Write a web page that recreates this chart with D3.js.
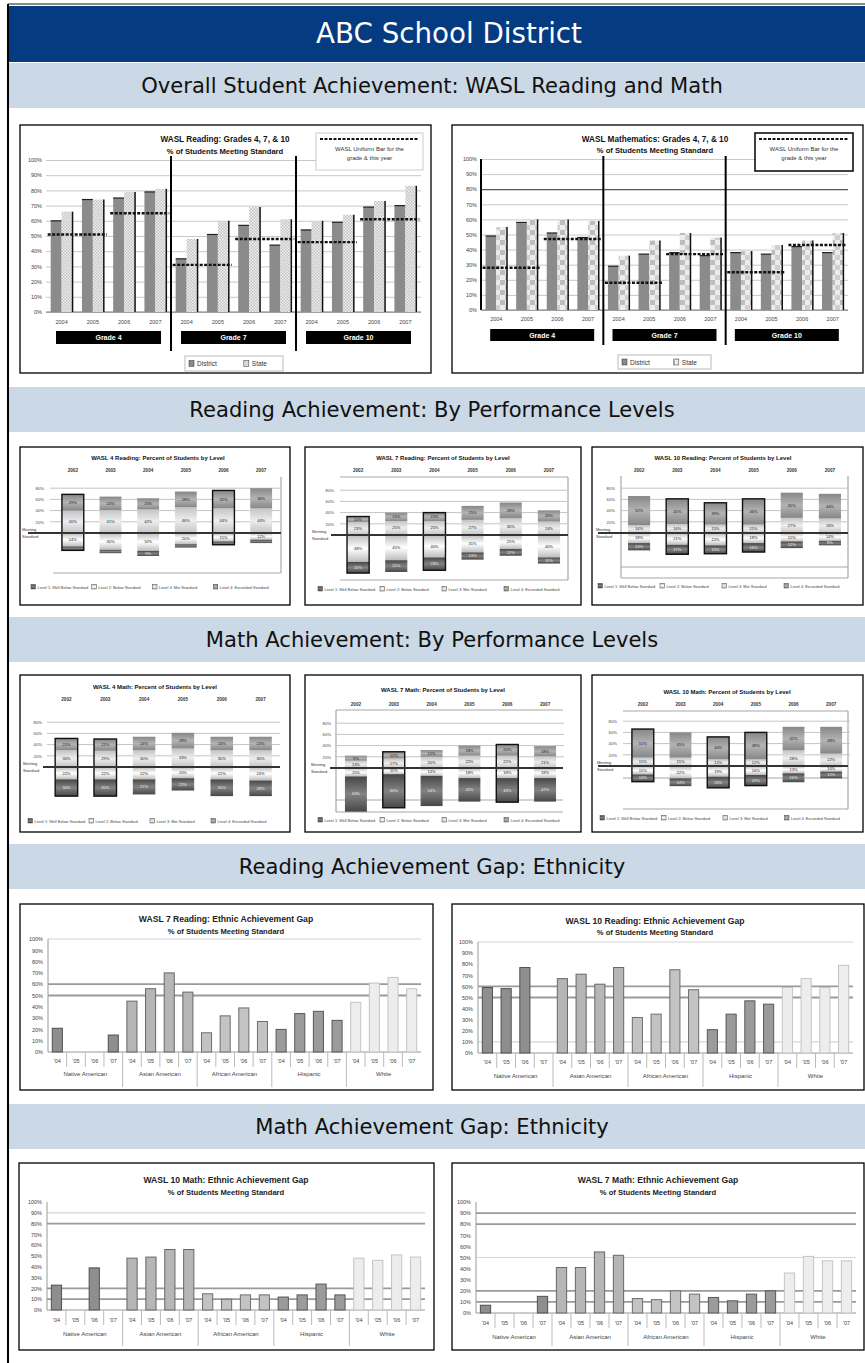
<!DOCTYPE html>
<html>
<head>
<meta charset="utf-8">
<script src="https://cdn.jsdelivr.net/npm/d3@7"></script>
<style>
  body { margin: 0; background: #fff; }
  svg { display: block; }
</style>
</head>
<body>
<svg id="page" width="865" height="1363"></svg>
<script>
/***************************************************************
 * DATA
 ***************************************************************/
const pageTitle = "ABC School District";
const sectionTitles = [
  "Overall Student Achievement: WASL Reading and Math",
  "Reading Achievement: By Performance Levels",
  "Math Achievement: By Performance Levels",
  "Reading Achievement Gap: Ethnicity",
  "Math Achievement Gap: Ethnicity"
];

// grade charts (4 years x 3 grades)
const gradeNames = ["Grade 4", "Grade 7", "Grade 10"];
const gradeYears = ["2004", "2005", "2006", "2007"];
const readDistrict = [60, 74, 75, 79, 35, 51, 57, 44, 54, 59, 69, 70];
const readState    = [66, 74, 79, 81, 48, 60, 69, 61, 60, 64, 73, 83];
const readUniform  = [51, 65, 31, 48, 46, 61];
const mathDistrict = [49, 58, 51, 48, 29, 37, 38, 36, 38, 37, 42, 38];
const mathState    = [55, 60, 60, 59, 36, 46, 51, 48, 39, 43, 46, 51];
const mathUniform  = [28, 47, 18, 37, 25, 43];

// performance levels: [Level 1, Level 2, Level 3, Level 4]
const perfYears = ["2002", "2003", "2004", "2005", "2006", "2007"];
const levelNames = ["Level 1: Well Below Standard", "Level 2: Below Standard",
                    "Level 3: Met Standard", "Level 4: Exceeded Standard"];
const levelTicks = [20, 40, 60, 80];
const read4Levels = [
  [7, 6, 9, 6, 6, 6],
  [24, 30, 32, 20, 15, 12],
  [40, 41, 42, 46, 44, 44],
  [29, 24, 20, 28, 32, 36]
];
const read7Levels = [
  [20, 21, 23, 13, 12, 11],
  [48, 45, 40, 31, 25, 40],
  [23, 25, 25, 27, 30, 24],
  [10, 15, 15, 25, 28, 20]
];
const read10Levels = [
  [13, 17, 15, 16, 12, 8],
  [18, 21, 22, 18, 15, 14],
  [14, 16, 15, 15, 27, 26],
  [52, 45, 39, 46, 45, 44]
];
const math4Levels = [
  [30, 30, 27, 22, 30, 28],
  [22, 22, 22, 20, 22, 24],
  [30, 29, 30, 33, 30, 30],
  [21, 21, 24, 28, 24, 24]
];
const math7Levels = [
  [63, 60, 54, 42, 43, 42],
  [15, 11, 14, 18, 18, 18],
  [13, 17, 20, 22, 22, 21],
  [9, 12, 12, 18, 20, 18]
];
const math10Levels = [
  [13, 14, 20, 19, 16, 12],
  [15, 22, 19, 16, 13, 10],
  [15, 15, 12, 12, 28, 22],
  [51, 45, 40, 48, 42, 48]
];

// ethnic gap (5 groups x 4 years), null = not reported
const gapGroups = ["Native American", "Asian American", "African American", "Hispanic", "White"];
const gapYears = ["'04", "'05", "'06", "'07"];
const readGap7  = [21, null, null, 15, 45, 56, 70, 53, 17, 32, 39, 27, 20, 34, 36, 28, 44, 61, 66, 56];
const readGap10 = [59, 58, 77, null, 67, 71, 62, 77, 32, 35, 75, 57, 21, 35, 47, 44, 59, 67, 59, 79];
const mathGap10 = [23, null, 39, null, 48, 49, 56, 56, 15, 10, 14, 14, 12, 14, 24, 14, 48, 46, 51, 49];
const mathGap7  = [7, null, null, 15, 41, 41, 55, 52, 13, 12, 20, 17, 14, 11, 17, 20, 36, 51, 47, 47];

/***************************************************************
 * SETUP
 ***************************************************************/
const svg = d3.select("#page");
const defs = svg.append("defs");
const FONT = "'Liberation Sans', Arial, sans-serif";
const HFONT = "'DejaVu Sans', Verdana, sans-serif";

// level gradients (edge, middle)
const levelShades = [["#474747", "#828282"], ["#bdbdbd", "#ffffff"], ["#c4c4c4", "#ededed"], ["#878787", "#b3b3b3"]];
levelShades.forEach((s, i) => {
  const lg = defs.append("linearGradient").attr("id", "lev" + i)
    .attr("x1", 0).attr("y1", 0).attr("x2", 0).attr("y2", 1);
  lg.append("stop").attr("offset", "0%").attr("stop-color", s[0]);
  lg.append("stop").attr("offset", "50%").attr("stop-color", s[1]);
  lg.append("stop").attr("offset", "100%").attr("stop-color", s[0]);
});

// fine dots for reading state bars
const dots = defs.append("pattern").attr("id", "dots").attr("width", 3).attr("height", 3)
  .attr("patternUnits", "userSpaceOnUse");
dots.append("rect").attr("width", 3).attr("height", 3).attr("fill", "#f0f0f0");
dots.append("rect").attr("width", 1.5).attr("height", 1.5).attr("fill", "#c2c2c2");
dots.append("rect").attr("x", 1.5).attr("y", 1.5).attr("width", 1.5).attr("height", 1.5).attr("fill", "#c2c2c2");

// coarse checks for math state bars
const checks = defs.append("pattern").attr("id", "checks").attr("width", 10).attr("height", 10)
  .attr("patternUnits", "userSpaceOnUse");
checks.append("rect").attr("width", 10).attr("height", 10).attr("fill", "#ececec");
checks.append("rect").attr("width", 5).attr("height", 5).attr("fill", "#bdbdbd");
checks.append("rect").attr("x", 5).attr("y", 5).attr("width", 5).attr("height", 5).attr("fill", "#cfcfcf");

function txt(g, x, y, s, size, opts = {}) {
  return g.append("text").attr("x", x).attr("y", y).text(s)
    .attr("font-family", opts.family || FONT).attr("font-size", size)
    .attr("font-weight", opts.weight || "normal")
    .attr("text-anchor", opts.anchor || "middle")
    .attr("fill", opts.fill || "#222");
}

function frameBox(g, b) {
  g.append("rect").attr("x", b[0]).attr("y", b[1]).attr("width", b[2]).attr("height", b[3])
    .attr("fill", "#fff").attr("stroke", "#000").attr("stroke-width", 1.3);
}

/***************************************************************
 * PAGE FRAME + HEADERS
 ***************************************************************/
svg.append("line").attr("x1", 8).attr("x2", 865).attr("y1", 4).attr("y2", 4).attr("stroke", "#8a8a8a").attr("stroke-width", 2);
svg.append("rect").attr("x", 9).attr("y", 6).attr("width", 856).attr("height", 56).attr("fill", "#053b80");
svg.append("line").attr("x1", 8).attr("x2", 8).attr("y1", 4).attr("y2", 1363).attr("stroke", "#000").attr("stroke-width", 2);

const titleText = txt(svg, 449, 43, pageTitle, 28, {family: HFONT, fill: "#fff"});
titleText.attr("font-size", 28 * 266 / titleText.node().getComputedTextLength());

const bandTops = [63, 387, 617, 844, 1104];
const probe = txt(svg, 0, -50, sectionTitles[0], 20, {family: HFONT});
const headSize = 20 * 582 / probe.node().getComputedTextLength();
probe.remove();
sectionTitles.forEach((t, i) => {
  svg.append("rect").attr("x", 9).attr("y", bandTops[i]).attr("width", 856).attr("height", 45).attr("fill", "#cbd8e6");
  txt(svg, 432, bandTops[i] + 30, t, headSize, {family: HFONT, fill: "#111"});
});

/***************************************************************
 * GRADE CHARTS (district vs state)
 ***************************************************************/
function drawGradeChart(c) {
  const g = svg.append("g");
  frameBox(g, c.box);

  const cats = d3.range(c.district.length);
  const x = d3.scaleBand().domain(cats).range([c.left, c.right]).paddingInner(0.3).paddingOuter(0.15);
  const y = d3.scaleLinear().domain([0, 100]).range([c.bottom, c.top]);
  const bw = x.bandwidth(), half = bw / 2;

  // grid
  g.append("g").attr("transform", `translate(${c.left},0)`)
    .call(d3.axisLeft(y).ticks(10).tickSize(-(c.right - c.left)).tickFormat(""))
    .call(a => a.select(".domain").remove())
    .call(a => a.selectAll("line").attr("stroke", d => c.darkLines.includes(d) ? "#555" : "#c8c8c8")
      .attr("stroke-width", d => c.darkLines.includes(d) ? 1.2 : 1));
  g.append("g").attr("transform", `translate(${c.left},0)`)
    .call(d3.axisLeft(y).ticks(10).tickSize(0).tickPadding(4).tickFormat(d => d + "%"))
    .call(a => a.select(".domain").remove())
    .call(a => a.selectAll("text").attr("font-family", FONT).attr("font-size", 5.5).attr("fill", "#444"));
  if (c.axisLine) {
    g.append("line").attr("x1", c.left).attr("x2", c.left).attr("y1", c.top).attr("y2", c.bottom)
      .attr("stroke", "#000").attr("stroke-width", 2);
  }
  g.append("line").attr("x1", c.left).attr("x2", c.right).attr("y1", y(0)).attr("y2", y(0)).attr("stroke", "#777");

  // bars
  g.append("g").selectAll("rect").data(c.district).join("rect")
    .attr("x", (d, i) => x(i)).attr("y", d => y(d))
    .attr("width", half).attr("height", d => y(0) - y(d)).attr("fill", "#8b8b8b");
  g.append("g").selectAll("line").data(c.district).join("line")
    .attr("x1", (d, i) => x(i)).attr("x2", (d, i) => x(i) + half)
    .attr("y1", d => y(d)).attr("y2", d => y(d)).attr("stroke", "#222").attr("stroke-width", 1.2);
  g.append("g").selectAll("rect").data(c.state).join("rect")
    .attr("x", (d, i) => x(i) + half).attr("y", d => y(d))
    .attr("width", half).attr("height", d => y(0) - y(d)).attr("fill", c.statePattern);
  g.append("g").selectAll("line").data(c.state).join("line")
    .attr("x1", (d, i) => x(i) + bw).attr("x2", (d, i) => x(i) + bw)
    .attr("y1", d => y(d)).attr("y2", y(0)).attr("stroke", "#111").attr("stroke-width", 1.5);

  // uniform bar segments (two years each)
  g.append("g").selectAll("line").data(c.uniform).join("line")
    .attr("x1", (d, j) => x(2 * j) - 3).attr("x2", (d, j) => x(2 * j + 1) + bw + 3)
    .attr("y1", d => y(d)).attr("y2", d => y(d))
    .attr("stroke", "#111").attr("stroke-width", 2.4).attr("stroke-dasharray", "3,1.5");

  // year labels
  g.append("g").attr("transform", `translate(0,${c.yearY})`)
    .call(d3.axisBottom(x).tickSize(0).tickPadding(0).tickFormat(i => gradeYears[i % 4]))
    .call(a => a.select(".domain").remove())
    .call(a => a.selectAll("text").attr("font-family", FONT).attr("font-size", 5.5).attr("fill", "#444"));

  // grade separators
  [4, 8].forEach(k => {
    const sx = (x(k - 1) + bw + x(k)) / 2;
    g.append("line").attr("x1", sx).attr("x2", sx).attr("y1", c.sepTop).attr("y2", c.sepBottom)
      .attr("stroke", "#000").attr("stroke-width", 2);
  });

  // grade boxes
  gradeNames.forEach((name, k) => {
    const cx = (x(4 * k) + x(4 * k + 3) + bw) / 2;
    g.append("rect").attr("x", cx - c.gradeW / 2).attr("y", c.gradeY)
      .attr("width", c.gradeW).attr("height", c.gradeH).attr("fill", "#000");
    txt(g, cx, c.gradeY + c.gradeH / 2 + 2.5, name, 7, {weight: "bold", fill: "#fff"});
  });

  // titles
  txt(g, c.titleX, c.titleY[0], c.title[0], 8.2, {weight: "bold", fill: "#111"});
  txt(g, c.titleX, c.titleY[1], c.title[1], 7.6, {weight: "bold", fill: "#111"});

  // note box (uniform bar)
  const n = c.note;
  g.append("rect").attr("x", n.x).attr("y", n.y).attr("width", n.w).attr("height", n.h)
    .attr("fill", "#fff").attr("stroke", n.stroke).attr("stroke-width", n.sw);
  g.append("line").attr("x1", n.x + 4).attr("x2", n.x + n.w - 4).attr("y1", n.y + 6).attr("y2", n.y + 6)
    .attr("stroke", "#111").attr("stroke-width", 2.2).attr("stroke-dasharray", "3,1.5");
  txt(g, n.x + n.w / 2, n.y + 18, "WASL Uniform Bar for the", 6, {fill: "#333"});
  txt(g, n.x + n.w / 2, n.y + 27, "grade & this year", 6, {fill: "#333"});

  // legend
  const L = c.legend;
  g.append("rect").attr("x", L.x).attr("y", L.y).attr("width", L.w).attr("height", L.h)
    .attr("fill", "#fff").attr("stroke", "#bbb");
  g.append("rect").attr("x", L.x + 4).attr("y", L.y + L.h / 2 - 3).attr("width", 5).attr("height", 6).attr("fill", "#8b8b8b").attr("stroke", "#333").attr("stroke-width", 0.5);
  txt(g, L.x + 12, L.y + L.h / 2 + 2.5, "District", 6.5, {anchor: "start", fill: "#333"});
  g.append("rect").attr("x", L.x + L.w * 0.6).attr("y", L.y + L.h / 2 - 3).attr("width", 5).attr("height", 6).attr("fill", c.statePattern).attr("stroke", "#333").attr("stroke-width", 0.5);
  txt(g, L.x + L.w * 0.6 + 8, L.y + L.h / 2 + 2.5, "State", 6.5, {anchor: "start", fill: "#333"});
}

drawGradeChart({
  box: [20, 125, 411, 248], left: 46, right: 421, top: 160, bottom: 312,
  district: readDistrict, state: readState, uniform: readUniform, statePattern: "url(#dots)",
  darkLines: [], axisLine: false,
  title: ["WASL Reading: Grades 4, 7, & 10", "% of Students Meeting Standard"], titleX: 225, titleY: [142, 154],
  yearY: 320, sepTop: 156, sepBottom: 351, gradeY: 331, gradeW: 105, gradeH: 13,
  note: {x: 316, y: 133, w: 107, h: 37, stroke: "#ccc", sw: 1},
  legend: {x: 185, y: 356, w: 98, h: 15}
});
drawGradeChart({
  box: [452, 125, 411, 248], left: 481, right: 848, top: 159, bottom: 310,
  district: mathDistrict, state: mathState, uniform: mathUniform, statePattern: "url(#checks)",
  darkLines: [80], axisLine: true,
  title: ["WASL Mathematics: Grades 4, 7, & 10", "% of Students Meeting Standard"], titleX: 655, titleY: [142, 153],
  yearY: 317, sepTop: 156, sepBottom: 345, gradeY: 329, gradeW: 104, gradeH: 12,
  note: {x: 755, y: 133, w: 98, h: 38, stroke: "#000", sw: 1.5},
  legend: {x: 618, y: 355, w: 93, h: 14}
});

/***************************************************************
 * PERFORMANCE LEVEL CHARTS
 ***************************************************************/
function drawLevelChart(c) {
  const g = svg.append("g");
  frameBox(g, c.box);
  const k = 0.56;
  const x = d3.scaleBand().domain(perfYears).range([c.left, c.right]).paddingInner(0.42).paddingOuter(0.21);
  const y = d3.scaleLinear().domain([-100, 100]).range([c.mid + 100 * k, c.mid - 100 * k]);
  const bw = x.bandwidth();

  (c.frame || []).forEach(f => g.append("line").attr("x1", f[0]).attr("y1", f[1]).attr("x2", f[2]).attr("y2", f[3])
    .attr("stroke", "#a8a8a8").attr("stroke-width", 1.2));

  g.append("g").selectAll("line").data(levelTicks).join("line")
    .attr("x1", c.gridL).attr("x2", c.right).attr("y1", d => y(d)).attr("y2", d => y(d))
    .attr("stroke", "#c4c4c4").attr("stroke-width", 1);
  g.append("g").attr("transform", `translate(${c.tickX},0)`)
    .call(d3.axisLeft(y).tickValues(levelTicks).tickSize(0).tickPadding(0).tickFormat(d => d + "%"))
    .call(a => a.select(".domain").remove())
    .call(a => a.selectAll("text").attr("font-family", FONT).attr("font-size", 4.2).attr("fill", "#444"));
  g.append("g").attr("transform", `translate(0,${c.yearY})`)
    .call(d3.axisTop(x).tickSize(0).tickPadding(0))
    .call(a => a.select(".domain").remove())
    .call(a => a.selectAll("text").attr("font-family", FONT).attr("font-size", 4.6).attr("font-weight", "bold").attr("fill", "#333"));

  const [l1, l2, l3, l4] = c.levels;
  const segs = [];
  perfYears.forEach((yr, i) => {
    segs.push({yr, lev: 2, y0: 0, y1: l3[i], v: l3[i]});
    segs.push({yr, lev: 3, y0: l3[i], y1: l3[i] + l4[i], v: l4[i]});
    segs.push({yr, lev: 1, y0: -l2[i], y1: 0, v: l2[i]});
    segs.push({yr, lev: 0, y0: -l2[i] - l1[i], y1: -l2[i], v: l1[i]});
  });
  g.append("g").selectAll("rect").data(segs).join("rect")
    .attr("x", d => x(d.yr)).attr("width", bw)
    .attr("y", d => y(d.y1)).attr("height", d => y(d.y0) - y(d.y1))
    .attr("fill", d => `url(#lev${d.lev})`);
  g.append("g").selectAll("text").data(segs.filter(d => d.v >= 8)).join("text")
    .attr("x", d => x(d.yr) + bw / 2).attr("y", d => (y(d.y0) + y(d.y1)) / 2 + 1.4)
    .attr("text-anchor", "middle").attr("font-family", FONT).attr("font-size", 4)
    .attr("fill", d => d.lev === 0 ? "#eee" : "#222").text(d => d.v + "%");

  g.append("g").selectAll("rect").data(c.outline).join("rect")
    .attr("x", i => x(perfYears[i])).attr("width", bw)
    .attr("y", i => y(l3[i] + l4[i])).attr("height", i => y(-l1[i] - l2[i]) - y(l3[i] + l4[i]))
    .attr("fill", "none").attr("stroke", "#111").attr("stroke-width", 1.4);

  g.append("line").attr("x1", c.lineX[0]).attr("x2", c.lineX[1]).attr("y1", c.mid).attr("y2", c.mid)
    .attr("stroke", "#333").attr("stroke-width", 2);
  txt(g, c.labelX, c.mid - 2, "Meeting", 4, {anchor: "start", fill: "#333"});
  txt(g, c.labelX, c.mid + 5, "Standard", 4, {anchor: "start", fill: "#333"});

  txt(g, c.titleX, c.titleY, c.title, 6, {weight: "bold", fill: "#111"});

  const step = (c.legendX[1] - c.legendX[0]) / 4;
  levelNames.forEach((name, i) => {
    const lx = c.legendX[0] + i * step;
    g.append("rect").attr("x", lx).attr("y", c.legendY - 3.5).attr("width", 4.5).attr("height", 4.5)
      .attr("fill", `url(#lev${i})`).attr("stroke", "#444").attr("stroke-width", 0.5);
    txt(g, lx + 6.5, c.legendY + 0.8, name, 3.9, {anchor: "start", fill: "#444"});
  });
}

drawLevelChart({
  box: [20, 447, 270, 158], title: "WASL 4 Reading: Percent of Students by Level", titleX: 158, titleY: 460,
  yearY: 472, left: 54, right: 280, mid: 533, gridL: 50, tickX: 44, levels: read4Levels,
  lineX: [28, 281], labelX: 22, frame: [[281, 477, 281, 573], [53, 573, 281, 573]],
  outline: [0, 4], legendY: 588, legendX: [31, 274]
});
drawLevelChart({
  box: [305, 447, 276, 158], title: "WASL 7 Reading: Percent of Students by Level", titleX: 443, titleY: 460,
  yearY: 472, left: 339, right: 568, mid: 535, gridL: 340, tickX: 334, levels: read7Levels,
  lineX: [331, 568], labelX: 312, frame: [[340, 477, 568, 477], [568, 477, 568, 580], [340, 580, 568, 580]],
  outline: [0, 2], legendY: 590, legendX: [318, 566]
});
drawLevelChart({
  box: [592, 447, 271, 158], title: "WASL 10 Reading: Percent of Students by Level", titleX: 723, titleY: 460,
  yearY: 472, left: 620, right: 849, mid: 533, gridL: 621, tickX: 615, levels: read10Levels,
  lineX: [598, 848], labelX: 596, frame: [[621, 476, 621, 578], [848, 476, 848, 578], [621, 578, 848, 578], [621, 567, 848, 567]],
  outline: [1, 2, 3], legendY: 587, legendX: [598, 846]
});
drawLevelChart({
  box: [20, 675, 270, 157], title: "WASL 4 Math: Percent of Students by Level", titleX: 155, titleY: 689,
  yearY: 701, left: 47, right: 280, mid: 767, gridL: 47, tickX: 42, levels: math4Levels,
  lineX: [43, 280], labelX: 23, frame: [],
  outline: [0, 1], legendY: 822, legendX: [28, 272]
});
drawLevelChart({
  box: [305, 675, 276, 157], title: "WASL 7 Math: Percent of Students by Level", titleX: 443, titleY: 692,
  yearY: 706, left: 337, right: 564, mid: 768, gridL: 336, tickX: 331, levels: math7Levels,
  lineX: [330, 563], labelX: 311, frame: [[336, 710, 563, 710], [336, 710, 336, 812], [336, 800, 563, 800], [336, 812, 563, 812]],
  outline: [1, 4], legendY: 821, legendX: [318, 566]
});
drawLevelChart({
  box: [592, 675, 271, 157], title: "WASL 10 Math: Percent of Students by Level", titleX: 727, titleY: 694,
  yearY: 706, left: 624, right: 850, mid: 766, gridL: 623, tickX: 617, levels: math10Levels,
  lineX: [598, 848], labelX: 597, frame: [[623, 711, 848, 711], [848, 711, 848, 809], [623, 809, 848, 809], [623, 778, 848, 778]],
  outline: [0, 2, 3], legendY: 819, legendX: [600, 846]
});

/***************************************************************
 * ETHNIC GAP CHARTS
 ***************************************************************/
const groupColors = ["#8e8e8e", "#b6b6b6", "#c3c3c3", "#9b9b9b", "#ededed"];

function drawGapChart(c) {
  const g = svg.append("g");
  frameBox(g, c.box);
  const cats = d3.range(c.values.length);
  const x = d3.scaleBand().domain(cats).range([c.left, c.right]).paddingInner(0.46).paddingOuter(0.23);
  const y = d3.scaleLinear().domain([0, 100]).range([c.bottom, c.top]);
  const bw = x.bandwidth(), step = x.step();

  g.append("g").attr("transform", `translate(${c.left},0)`)
    .call(d3.axisLeft(y).ticks(10).tickSize(0).tickPadding(5).tickFormat(d => d + "%"))
    .call(a => a.select(".domain").remove())
    .call(a => a.selectAll("text").attr("font-family", FONT).attr("font-size", 5.5).attr("fill", "#444"));

  g.append("g").selectAll("line").data(c.lightLines).join("line")
    .attr("x1", c.left).attr("x2", c.right).attr("y1", d => y(d)).attr("y2", d => y(d))
    .attr("stroke", "#d4d4d4").attr("stroke-width", 1.2);
  g.append("g").selectAll("line").data(c.lines).join("line")
    .attr("x1", c.left).attr("x2", c.right).attr("y1", d => y(d)).attr("y2", d => y(d))
    .attr("stroke", "#9a9a9a").attr("stroke-width", 1.8);

  g.append("line").attr("x1", c.left).attr("x2", c.left).attr("y1", c.top).attr("y2", c.bottom).attr("stroke", "#999");
  g.append("line").attr("x1", c.left).attr("x2", c.right).attr("y1", c.bottom).attr("y2", c.bottom).attr("stroke", "#999");

  g.append("g").selectAll("rect").data(cats.filter(i => c.values[i] != null)).join("rect")
    .attr("x", i => x(i)).attr("width", bw)
    .attr("y", i => y(c.values[i])).attr("height", i => y(0) - y(c.values[i]))
    .attr("fill", i => groupColors[Math.floor(i / 4)])
    .attr("stroke", i => Math.floor(i / 4) === 4 ? "#c4c4c4" : d3.color(groupColors[Math.floor(i / 4)]).darker(1.6))
    .attr("stroke-width", 1);

  // category ticks and labels
  g.append("g").selectAll("line").data(d3.range(1, cats.length)).join("line")
    .attr("x1", i => c.left + step * (i + 0.23 - 0.23) + 0).attr("x2", i => c.left + step * i)
    .attr("y1", c.bottom).attr("y2", i => i % 4 === 0 ? c.sepBottom : c.bottom + 15)
    .attr("stroke", "#bbb");
  g.append("g").attr("transform", `translate(0,${c.yearY})`)
    .call(d3.axisBottom(x).tickSize(0).tickPadding(0).tickFormat(i => gapYears[i % 4]))
    .call(a => a.select(".domain").remove())
    .call(a => a.selectAll("text").attr("font-family", FONT).attr("font-size", 5.5).attr("fill", "#444"));
  gapGroups.forEach((name, k) => {
    const cx = (x(4 * k) + x(4 * k + 3) + bw) / 2;
    txt(g, cx, c.groupY, name, 6, {fill: "#444"});
  });

  txt(g, c.titleX, c.titleY[0], c.title[0], 8.6, {weight: "bold", fill: "#222"});
  txt(g, c.titleX, c.titleY[1], c.title[1], 7.6, {weight: "bold", fill: "#222"});
}

drawGapChart({
  box: [20, 904, 413, 186], values: readGap7, left: 48, right: 421, top: 939, bottom: 1052,
  lines: [60, 50], lightLines: [100],
  title: ["WASL 7 Reading: Ethnic Achievement Gap", "% of Students Meeting Standard"], titleX: 226, titleY: [922, 934],
  yearY: 1059, groupY: 1076, sepBottom: 1087
});
drawGapChart({
  box: [452, 904, 412, 186], values: readGap10, left: 478, right: 853, top: 942, bottom: 1053,
  lines: [60, 50], lightLines: [100, 10],
  title: ["WASL 10 Reading: Ethnic Achievement Gap", "% of Students Meeting Standard"], titleX: 655, titleY: [924, 935],
  yearY: 1060, groupY: 1078, sepBottom: 1087
});
drawGapChart({
  box: [19, 1163, 415, 187], values: mathGap10, left: 47, right: 425, top: 1202, bottom: 1310,
  lines: [80, 20, 10], lightLines: [90],
  title: ["WASL 10 Math: Ethnic Achievement Gap", "% of Students Meeting Standard"], titleX: 226, titleY: [1183, 1195],
  yearY: 1318, groupY: 1336, sepBottom: 1346
});
drawGapChart({
  box: [452, 1163, 412, 187], values: mathGap7, left: 476, right: 856, top: 1202, bottom: 1313,
  lines: [90, 80, 20, 10], lightLines: [50],
  title: ["WASL 7 Math: Ethnic Achievement Gap", "% of Students Meeting Standard"], titleX: 658, titleY: [1183, 1195],
  yearY: 1321, groupY: 1339, sepBottom: 1346
});
</script>
</body>
</html>
